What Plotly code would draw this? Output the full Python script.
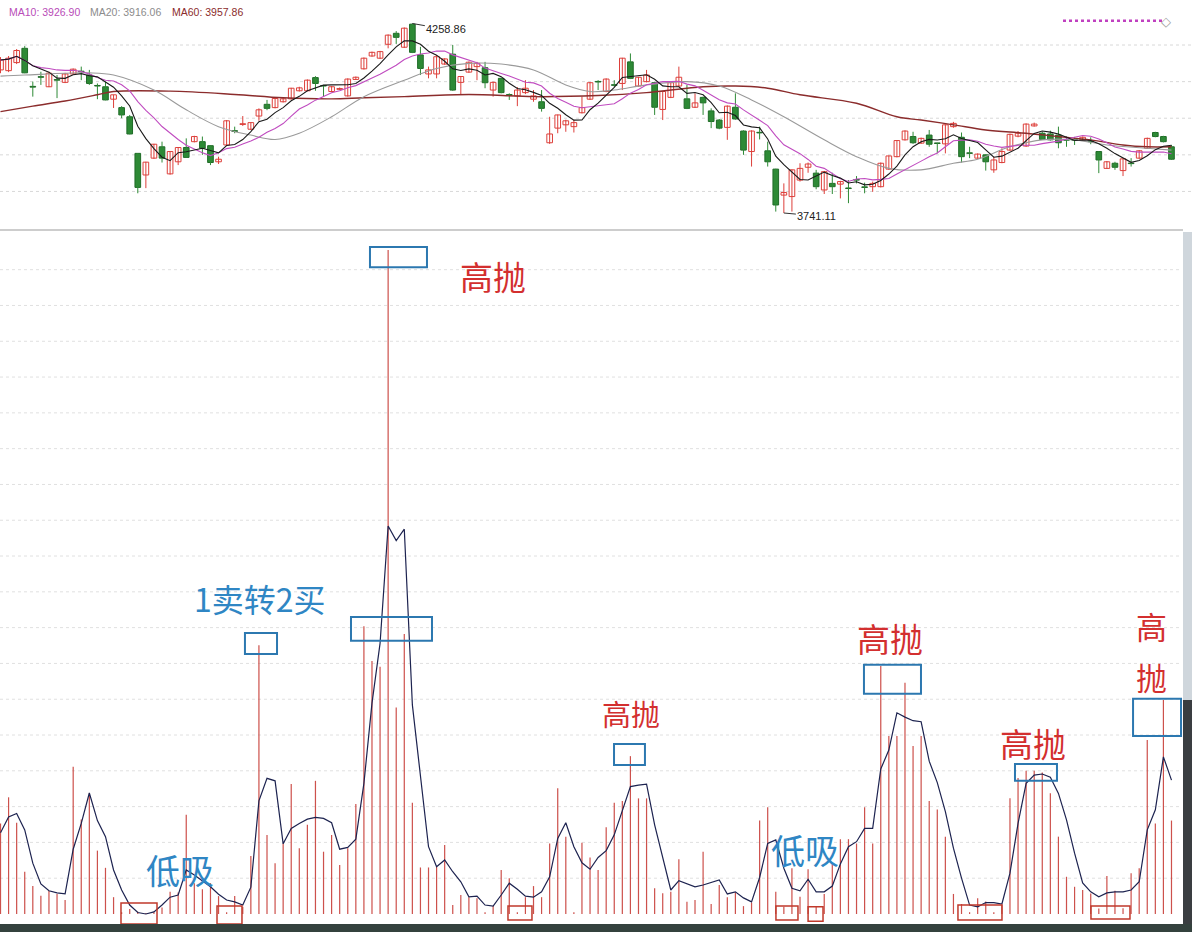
import plotly.graph_objects as go
import pandas as pd

W, H = 1192, 932

# ---------------- candlestick data (one entry per trading day) ----------------
opens = [4132,4130,4152,4191,4087,4113,4086,4105,4098,4121,
         4128,4118,4089,4086,4052,4029,4004,3904,3845,3891,
         3922,3848,3881,3920,3936,3936,3925,3881,3927,3966,
         3983,3970,4006,4038,4029,4045,4053,4075,4075,4111,
         4089,4073,4079,4061,4106,4135,4170,4164,4202,4232,
         4194,4257,4173,4121,4121,4148,4175,4098,4126,4141,
         4138,4077,4109,4064,4061,4070,4052,4045,3933,3973,
         3982,3977,4015,4052,4100,4073,4091,4095,4154,4088,
         4100,4097,4024,4057,4088,4053,4030,4057,4020,3995,
         3975,4030,3965,3909,3961,3911,3861,3790,3786,3831,
         3866,3850,3804,3822,3820,3809,3832,3812,3813,3813,
         3861,3895,3941,3950,3932,3954,3932,3930,3977,3948,
         3905,3891,3900,3859,3879,3913,3951,3924,3979,3959,
         3957,3954,3941,3941,3941,3937,3909,3863,3877,3857,
         3877,3891,3918,3961,3950,3922]
highs = [4167,4170,4189,4197,4100,4127,4127,4118,4124,4136,
         4141,4132,4095,4100,4064,4033,4009,3905,3881,3930,
         3936,3910,3921,3945,3952,3950,3926,3895,3995,3977,
         4006,3989,4027,4050,4056,4055,4083,4086,4106,4115,
         4091,4088,4084,4109,4114,4166,4182,4184,4229,4238,
         4248,4258.86,4195,4141,4173,4164,4200,4115,4155,4154,
         4154,4100,4111,4068,4085,4104,4077,4077,4004,4010,
         3996,3995,4059,4099,4104,4109,4104,4165,4177,4113,
         4132,4099,4074,4099,4141,4091,4068,4059,4027,3998,
         4035,4068,3967,3967,3977,3936,3862,3822,3860,3877,
         3879,3859,3856,3851,3829,3831,3842,3824,3827,3879,
         3898,3940,3967,3963,3947,3968,3933,3983,3990,3961,
         3922,3904,3901,3895,3918,3958,3965,3986,3988,3963,
         3966,3977,3950,3949,3950,3948,3910,3883,3881,3890,
         3891,3913,3947,3963,3952,3927]
lows = [4123,4126,4148,4123,4059,4091,4085,4055,4096,4119,
        4104,4091,4052,4049,4028,4000,3956,3795,3809,3889,
        3879,3846,3872,3892,3934,3900,3872,3875,3925,3959,
        3979,3968,3993,4022,4027,4043,4051,4073,4074,4075,
        4059,4071,4077,4059,4105,4133,4168,4162,4191,4203,
        4192,4178,4118,4109,4109,4146,4075,4066,4124,4104,
        4082,4059,4068,4050,4033,4066,4045,4018,3930,3959,
        3963,3961,4013,4050,4077,4071,4086,4077,4107,4086,
        4098,4009,3995,4055,4086,4025,4028,4009,3973,3970,
        3941,3996,3900,3868,3942,3868,3745,3741.11,3745,3827,
        3851,3806,3793,3793,3781,3768,3822,3795,3799,3811,
        3859,3893,3939,3930,3930,3922,3904,3904,3974,3879,
        3891,3889,3857,3851,3877,3911,3948,3922,3977,3941,
        3939,3918,3922,3927,3939,3929,3850,3862,3859,3842,
        3868,3889,3916,3948,3934,3886]
closes = [4159,4164,4185,4124,4085,4112,4123,4104,4121,4134,
          4127,4095,4088,4050,4064,4009,3957,3811,3880,3929,
          3891,3909,3920,3893,3950,3918,3879,3888,3993,3964,
          3985,3988,4023,4027,4054,4053,4082,4083,4104,4095,
          4088,4086,4081,4107,4112,4164,4180,4182,4227,4221,
          4246,4180,4136,4132,4168,4162,4077,4114,4153,4150,
          4097,4098,4070,4063,4077,4082,4061,4027,3957,4009,
          3993,3988,4029,4097,4099,4107,4090,4164,4109,4112,
          4118,4030,4073,4097,4112,4027,4042,4042,3991,3973,
          4033,3998,3913,3965,3960,3881,3763,3797,3859,3863,
          3875,3813,3854,3813,3827,3808,3831,3811,3822,3877,
          3897,3939,3965,3933,3945,3929,3931,3982,3986,3895,
          3904,3902,3881,3886,3909,3956,3959,3984,3984,3942,
          3941,3933,3940,3940,3948,3936,3886,3881,3866,3889,
          3876,3911,3945,3950,3936,3888]

# moving averages (day index, value)
ma20_idx = [0, 3, 11, 14, 19, 23, 27, 31, 34, 37, 41, 45, 50, 54, 58, 62, 66, 70, 73, 76,
            80, 85, 89, 93, 97, 102, 106, 110, 114, 118, 121, 125, 129, 133, 137, 142, 145]
ma20_val = [4115, 4118, 4124, 4118, 4077, 4023, 3977, 3954, 3942, 3959, 4004, 4059, 4104, 4136,
            4150, 4148, 4132, 4091, 4073, 4077, 4091, 4100, 4088, 4050, 4004, 3941, 3895, 3863,
            3859, 3877, 3888, 3922, 3941, 3941, 3927, 3918, 3913]
ma60_idx = [0, 4, 8, 12, 14, 21, 29, 35, 41, 45, 50, 58, 66, 74, 80, 87, 91, 95, 99, 106,
            111, 114, 118, 122, 127, 131, 135, 139, 142, 145]
ma60_val = [4018, 4033, 4047, 4064, 4073, 4074, 4065, 4056, 4053, 4056, 4059, 4065, 4059, 4062,
            4070, 4086, 4088, 4082, 4064, 4041, 4004, 3995, 3982, 3968, 3959, 3950, 3941, 3927,
            3922, 3922]

legend_labels = ["MA10: 3926.90", "MA20: 3916.06", "MA60: 3957.86"]

# ---------------- lower indicator ----------------
ind_bars = [25.3,32.6,25.5,11.8,7.8,5.1,6.4,5.6,3.9,41.1,
            26.4,33.7,17.7,12.9,4.7,0.5,1.4,0.6,0.3,0.5,
            1.8,6.2,6.0,27.7,8.6,6.9,8.6,5.0,0.5,5.0,
            2.0,16.2,75.1,22.1,14.2,19.7,36.3,18.4,24.9,37.2,
            17.4,22.1,13.7,18.4,30.7,80.4,70.7,69.1,185.5,57.7,
            78.2,31.1,13.0,13.0,13.2,19.3,2.5,5.3,4.7,4.4,
            0.5,2.2,12.3,10.0,0.5,4.7,7.8,4.7,19.7,35.1,
            21.6,0.5,19.9,15.8,12.3,24.2,31.1,31.6,44.1,32.3,
            32.3,7.2,5.8,6.2,15.3,3.4,3.9,17.4,2.8,8.1,
            4.7,6.0,2.2,3.2,26.1,29.8,6.2,2.0,12.8,4.8,
            12.5,2.2,5.6,14.0,20.9,20.9,19.7,29.8,19.7,69.3,
            49.7,49.7,64.6,46.9,49.7,31.6,29.2,21.6,5.6,2.8,
            0.5,4.4,3.5,0.5,2.5,32.3,38.0,40.0,40.0,39.5,
            33.7,21.6,10.4,7.6,6.7,5.7,1.5,10.6,6.5,1.6,
            11.4,12.8,48.6,25.3,59.8,26.1]
ind_line = [22.7,27.1,28.1,23.5,14.2,8.4,6.5,5.9,5.6,18.1,
            25.3,33.8,26.1,21.6,12.3,6.7,2.5,0.4,0.0,0.6,
            2.5,4.7,5.3,12.3,10.9,9.3,7.6,5.5,3.9,3.4,
            2.5,7.5,31.6,37.9,37.2,19.6,23.9,25.3,26.5,27.0,
            26.7,25.5,18.1,18.6,20.9,36.5,58.9,75.6,108.4,104.3,
            107.5,58.4,39.3,18.8,13.2,15.1,11.8,9.0,4.8,5.0,
            2.5,2.2,5.3,8.6,6.9,5.0,4.7,6.2,10.4,21.1,
            25.5,18.8,14.3,12.5,15.8,17.7,22.1,29.1,35.6,36.0,
            36.3,24.9,15.6,6.7,9.3,8.4,7.6,8.1,8.7,9.5,
            5.6,6.2,4.5,3.4,10.2,19.7,20.7,12.8,7.2,6.5,
            9.7,6.2,6.2,7.8,14.0,18.8,20.2,23.9,23.9,40.5,
            45.8,56.2,55.0,54.0,53.7,42.7,36.7,28.6,18.4,10.0,
            2.5,2.0,3.2,3.2,2.8,11.4,25.3,36.5,38.8,39.1,
            38.2,33.7,26.3,17.0,8.7,6.2,4.8,5.9,6.2,6.2,
            6.7,9.0,23.5,29.1,43.9,37.4]

# annotation boxes: (x0, x1, y0, y1) in day index / indicator units
blue_boxes = [(45.75, 52.81, 180.7, 186.3), (30.27, 34.24, 72.6, 78.5), (43.40, 53.43, 76.3, 83.0),
              (75.97, 79.80, 41.6, 47.5), (106.92, 113.98, 61.5, 69.6), (125.62, 130.82, 37.2, 41.9),
              (140.24, 146.18, 49.7, 60.1)]
red_boxes = [(14.92, 19.38, -2.8, 3.1), (26.81, 29.90, -2.8, 2.2), (62.84, 65.81, -1.7, 2.2),
             (96.02, 98.75, -1.7, 2.2), (100.0, 101.85, -2.0, 2.0), (118.56, 124.01, -1.7, 2.5),
             (135.03, 139.86, -1.4, 2.2)]
# text labels: (text, x, y, colour key, size)
labels = [("高抛", 61.0, 178.2, "r", 33), ("1卖转2买", 32.1, 88.3, "b", 32),
          ("低吸", 22.2, 12.3, "b", 34), ("高抛", 78.07, 56.1, "r", 29),
          ("低吸", 99.6, 17.9, "b", 34), ("高抛", 110.1, 77.1, "r", 33),
          ("高抛", 127.85, 47.8, "r", 33), ("高", 142.5, 80.6, "r", 31), ("抛", 142.5, 66.4, "r", 31)]

RED = "#dd3f3a"
GREEN = "#2e8a36"
TXT_RED = "#d32f2f"
TXT_BLUE = "#2f86c4"

n = len(closes)
idx = list(range(n))
up = [i for i in idx if closes[i] >= opens[i]]
dn = [i for i in idx if closes[i] < opens[i]]


def wicks(ids):
    xs, ys = [], []
    for i in ids:
        xs += [i, i, None]
        ys += [lows[i], highs[i], None]
    return xs, ys


fig = go.Figure()

# grid lines
grid_shapes = []
for p in [4200, 4100, 4000, 3900, 3800]:
    grid_shapes.append(dict(type="line", xref="paper", yref="y", x0=0, x1=1, y0=p, y1=p,
                            line=dict(color="#d8d8d8", width=1, dash="dot"), layer="below"))
for k in range(1, 19):
    v = 10 * k
    grid_shapes.append(dict(type="line", xref="paper", yref="y2", x0=0, x1=0.99, y0=v, y1=v,
                            line=dict(color="#e0e0e0", width=1, dash="dot"), layer="below"))

wx, wy = wicks(up)
fig.add_trace(go.Scatter(x=wx, y=wy, mode="lines", line=dict(color=RED, width=1), hoverinfo="skip"))
wx, wy = wicks(dn)
fig.add_trace(go.Scatter(x=wx, y=wy, mode="lines", line=dict(color=GREEN, width=1), hoverinfo="skip"))

fig.add_trace(go.Bar(x=up, y=[max(abs(closes[i] - opens[i]), 1.5) for i in up],
                     base=[min(opens[i], closes[i]) for i in up], width=0.7,
                     marker=dict(color="white", line=dict(color=RED, width=1))))
fig.add_trace(go.Bar(x=dn, y=[max(abs(closes[i] - opens[i]), 1.5) for i in dn],
                     base=[min(opens[i], closes[i]) for i in dn], width=0.7,
                     marker=dict(color=GREEN, line=dict(color="#1f6b27", width=1))))

s = pd.Series(closes, dtype=float)
ma5 = s.rolling(5, min_periods=1).mean()
ma10 = s.rolling(10, min_periods=1).mean()
fig.add_trace(go.Scatter(x=ma60_idx, y=ma60_val, mode="lines", line=dict(color="#8b2c2c", width=1.4, shape="spline")))
fig.add_trace(go.Scatter(x=ma20_idx, y=ma20_val, mode="lines", line=dict(color="#9a9a9a", width=1.1, shape="spline")))
fig.add_trace(go.Scatter(x=idx, y=ma10, mode="lines", line=dict(color="#c04cc0", width=1.1)))
fig.add_trace(go.Scatter(x=idx, y=ma5, mode="lines", line=dict(color="#1a1a1a", width=1.1)))

# lower panel
fig.add_trace(go.Bar(x=idx, y=ind_bars, width=0.15, yaxis="y2",
                     marker=dict(color="rgba(200,62,56,0.9)", line=dict(width=0))))
fig.add_trace(go.Scatter(x=idx, y=ind_line, yaxis="y2", mode="lines",
                         line=dict(color="#1d2350", width=1.2)))

shapes = list(grid_shapes)
for (x0, x1, y0, y1) in blue_boxes:
    shapes.append(dict(type="rect", xref="x", yref="y2", x0=x0, x1=x1, y0=y0, y1=y1,
                       line=dict(color="#2c78b0", width=2), fillcolor="rgba(0,0,0,0)"))
for (x0, x1, y0, y1) in red_boxes:
    shapes.append(dict(type="rect", xref="x", yref="y2", x0=x0, x1=x1, y0=y0, y1=y1,
                       line=dict(color="#c0392b", width=1.5), fillcolor="rgba(0,0,0,0)"))


def px(x):
    return x / W


def py(y):
    return 1 - y / H


# panel separator and frame decoration
shapes.append(dict(type="line", xref="paper", yref="paper", x0=0, x1=px(1183), y0=py(230), y1=py(230),
                   line=dict(color="#9c9c9c", width=1.2)))
shapes.append(dict(type="rect", xref="paper", yref="paper", x0=px(1183), x1=1, y0=py(700), y1=py(232),
                   line=dict(width=0), fillcolor="#cfd6dc"))
shapes.append(dict(type="rect", xref="paper", yref="paper", x0=px(1183), x1=1, y0=0, y1=py(700),
                   line=dict(width=0), fillcolor="#3a3e41"))
shapes.append(dict(type="rect", xref="paper", yref="paper", x0=0, x1=1, y0=0, y1=py(924),
                   line=dict(width=0), fillcolor="#34423e"))
shapes.append(dict(type="line", xref="paper", yref="paper", x0=px(1063), x1=px(1163), y0=py(20.7), y1=py(20.7),
                   line=dict(color="#c040c0", width=2.5, dash="dot")))

annotations = []
legend_colors = ["#b84cb8", "#8c8c8c", "#8b2c2c"]
legend_x = [7, 88, 170]
for t, c, x in zip(legend_labels, legend_colors, legend_x):
    annotations.append(dict(text=t, x=px(x), y=py(12), xref="paper", yref="paper", xanchor="left",
                            yanchor="middle", showarrow=False,
                            font=dict(family="Liberation Sans", size=10.5, color=c)))
annotations.append(dict(text="◇", x=px(1173), y=py(12), xref="paper", yref="paper", showarrow=False,
                        font=dict(family="DejaVu Sans", size=13, color="#999999")))

hi_i = max(idx, key=lambda i: highs[i])
lo_i = min(idx, key=lambda i: lows[i])
annotations.append(dict(text=f"{highs[hi_i]:.2f}", x=hi_i, y=highs[hi_i], xref="x", yref="y",
                        ax=34, ay=6, showarrow=True, arrowhead=0, arrowwidth=1, arrowcolor="#333",
                        font=dict(family="Liberation Sans", size=11, color="#222")))
annotations.append(dict(text=f"{lows[lo_i]:.2f}", x=lo_i, y=lows[lo_i], xref="x", yref="y",
                        ax=33, ay=3, showarrow=True, arrowhead=0, arrowwidth=1, arrowcolor="#333",
                        font=dict(family="Liberation Sans", size=11, color="#222")))

for (t, x, y, c, sz) in labels:
    annotations.append(dict(text=t, x=x, y=y, xref="x", yref="y2", showarrow=False,
                            font=dict(family="Noto Sans CJK SC", size=sz,
                                      color=TXT_RED if c == "r" else TXT_BLUE)))

fig.update_layout(
    width=W, height=H, margin=dict(l=0, r=0, t=0, b=0),
    paper_bgcolor="white", plot_bgcolor="white",
    showlegend=False, barmode="overlay",
    xaxis=dict(range=[-0.062, 147.54], visible=False, fixedrange=True),
    yaxis=dict(domain=[1 - 229 / H, 1], range=[3697.4, 4323], visible=False, fixedrange=True),
    yaxis2=dict(domain=[0, 1 - 231 / H], range=[-5.03, 190.8], visible=False, fixedrange=True,
                anchor="x"),
    shapes=shapes, annotations=annotations,
)

fig.write_html("out.html", config={"displayModeBar": False},
               post_script="document.body.style.margin='0';document.body.style.overflow='hidden';")
